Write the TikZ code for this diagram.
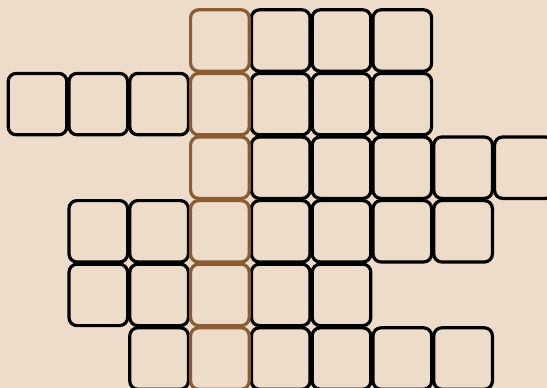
\documentclass[tikz,border=0pt]{standalone}
\definecolor{bg}{RGB}{238,220,202}
\definecolor{brownline}{RGB}{138,92,52}
\begin{document}
\begin{tikzpicture}[x=1pt,y=-1pt,
  cell/.style={draw=black,line width=3.2pt,rounded corners=8pt,minimum width=58.6pt,minimum height=61.4pt,inner sep=0pt,fill=none},
  bcell/.style={cell,draw=brownline}]
\fill[bg] (0,0) rectangle (547,388);
\useasboundingbox (0,0) rectangle (547,388);
\def\px#1{37.5+60.8*#1}
\def\py#1{40.5+63.6*#1}
% black cells: row/col lists
\foreach \r/\cols in {0/{4,5,6},1/{0,1,2,4,5,6},2/{4,5,6,7,8},3/{1,2,4,5,6,7},4/{1,2,4,5},5/{2,4,5,6,7}}{
  \foreach \c in \cols {
    \node[cell] (k-\r-\c) at ({\px{\c}},{\py{\r}}) {};
  }
}
% brown column
\foreach \r in {0,...,5}{
  \node[bcell] (b-\r) at ({\px{3}},{\py{\r}}) {};
}
\end{tikzpicture}
\end{document}
